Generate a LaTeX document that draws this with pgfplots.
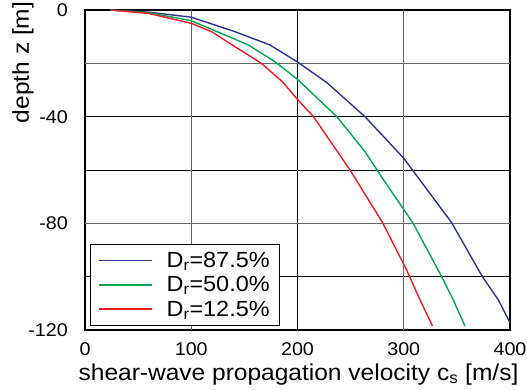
\documentclass[border=0pt]{standalone}
\usepackage{pgfplots}
\pgfplotsset{compat=1.18}
\usepackage{fontspec}
\setmainfont{Liberation Sans}[FakeStretch=1.07]
\definecolor{cblue}{HTML}{2E3192}
\definecolor{cgreen}{HTML}{00A651}
\definecolor{cred}{HTML}{ED1C24}
\begin{document}
\begin{tikzpicture}
\begin{axis}[
  width=425bp, height=320bp, scale only axis,
  xmin=0, xmax=400, ymin=-120, ymax=0,
  xtick={0,200,400}, xticklabels={0,200,400},
  extra x ticks={100,300}, extra x tick labels={100,300},
  ytick={-120,-100,-60,-40,0}, yticklabels={-120,,,-40,0},
  extra y ticks={-80,-20}, extra y tick labels={-80,{}},
  extra tick style={grid style={color=black!60, line width=1.2bp}},
  grid=major, grid style={black, line width=0.8bp},
  major tick length=0pt,
  axis line style={line width=1.3bp},
  /pgf/number format/assume math mode=true,
  tick label style={font=\fontsize{18.5}{20}\selectfont},
  xticklabel style={anchor=base, inner sep=0pt, yshift=-25bp},
  yticklabel style={anchor=east, inner sep=0pt, xshift=-17bp},
  xlabel={shear-wave propagation velocity c\textsubscript{s} [m/s]},
  xlabel style={font=\fontsize{23}{25}\selectfont, at={(rel axis cs:0.5,0)}, anchor=base, inner sep=0pt, yshift=-50bp, xshift=1bp},
  ylabel={depth z [m]},
  ylabel style={font=\fontsize{23}{25}\selectfont, at={(rel axis cs:-0.1459,0.836)}, anchor=center, inner sep=0pt},
  legend style={at={(rel axis cs:0.0118,0.0134)}, anchor=south west, draw=black, fill=white,
    font=\fontsize{22}{24}\selectfont, inner xsep=8bp, inner ysep=6bp, row sep=3.5bp, column sep=12bp},
  legend cell align=left,
  legend image code/.code={\draw[#1, line width=1.4bp] (0bp,0bp) -- (53bp,0bp);},
]
\addplot[cblue, line width=1.4bp] coordinates {
(24,0) (60,-0.8) (100,-2.7) (141,-8.1) (174,-13.1) (200,-19.5) (227.5,-27.2) (263.5,-40) (300,-55.6) (345,-79.7) (374,-100) (389,-108.7) (400,-117.3)};
\addlegendentry{D\textsubscript{r}=87.5\%}
\addplot[cgreen, line width=1.4bp] coordinates {
(24,0) (60,-1) (100,-4) (153.7,-13.1) (178.8,-19.4) (200,-26) (237,-40) (263.5,-53.1) (281,-63.7) (308.4,-79.7) (335.7,-100) (346.6,-108.7) (357.6,-118.5)};
\addlegendentry{D\textsubscript{r}=50.0\%}
\addplot[cred, line width=1.4bp] coordinates {
(24,0) (60,-1.3) (100,-5) (119,-8.1) (141,-13.7) (166,-20) (186,-27) (199,-33.1) (215,-40) (249.4,-60) (280,-79.7) (302.7,-97.5) (315.3,-108.7) (327,-118.5)};
\addlegendentry{D\textsubscript{r}=12.5\%}
\end{axis}
\pgfresetboundingbox
\useasboundingbox (-85bp,-60bp) rectangle (442bp,330bp);
\end{tikzpicture}
\end{document}
